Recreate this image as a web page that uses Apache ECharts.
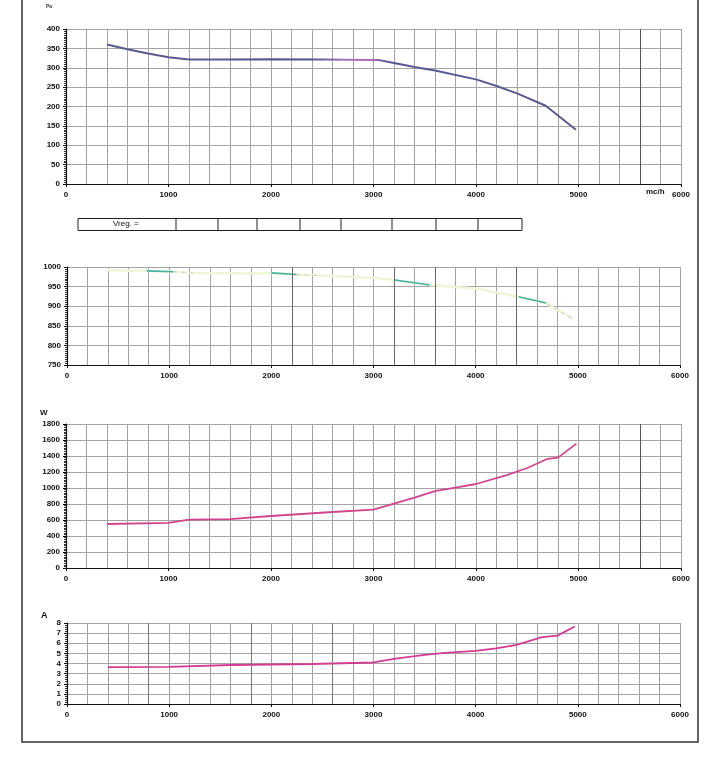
<!DOCTYPE html>
<html>
<head>
<meta charset="utf-8">
<script src="https://cdn.jsdelivr.net/npm/echarts@6/dist/echarts.min.js"></script>
<style>
  html, body { margin: 0; padding: 0; background: #fff; }
  #chart { width: 709px; height: 758px; }
</style>
</head>
<body>
<div id="chart"></div>
<script>
// flow axis (m3/h), shared by all four panels
const FLOW_TICKS = [0, 1000, 2000, 3000, 4000, 5000, 6000];

// panel 1: static pressure (Pa)
const pressureFlow = [400, 600, 800, 1000, 1200, 1500, 2000, 2500, 3000, 3050, 3400, 3600, 4000, 4200, 4400, 4680, 4975];
const pressurePa   = [360, 348, 337, 327, 321, 321, 322, 321, 320, 320, 302, 293, 270, 253, 234, 202, 140];

// panel 2: speed (rpm) - faint full curve + highlighted pieces
const speedFlow = [400, 800, 1040, 1250, 2000, 2250, 2500, 3000, 3200, 3550, 4000, 4400, 4700, 4950];
const speedRpm  = [992, 990, 988, 985, 984, 981, 978, 972, 967, 954, 945, 925, 906, 868];
const speedSegFlow = [[780, 1040], [2000, 2245], [3210, 3550], [4420, 4690]];
const speedSegRpm  = [[990, 988], [985, 981], [967, 954], [924, 908]];
const speedTailFlow = [[1040, 1230], [2245, 2455], [4700, 4950]];
const speedTailRpm  = [[988, 985], [981, 978], [906, 868]];

// panel 3: power (W)
const powerFlow = [400, 1000, 1200, 1600, 2000, 2600, 3000, 3200, 3400, 3600, 3800, 4000, 4300, 4500, 4700, 4800, 4980];
const powerW    = [550, 565, 605, 612, 650, 700, 730, 805, 880, 960, 1005, 1050, 1160, 1250, 1365, 1380, 1555];

// panel 4: current (A)
const currentFlow = [400, 1000, 1600, 2400, 3000, 3200, 3500, 3700, 4000, 4200, 4400, 4650, 4800, 4970];
const currentA    = [3.65, 3.67, 3.85, 3.95, 4.1, 4.45, 4.85, 5.05, 5.25, 5.5, 5.85, 6.6, 6.75, 7.65];

// darker scanned grid columns
const darkCols1 = [5600];
const darkCols2 = [2200, 3200, 3600, 4400];
const darkCols3 = [5600];
const darkCols4 = [800, 1800, 2600];

// Vreg strip cell borders (px)
const vregCells = [78, 176, 218, 257, 300, 341, 392, 436, 478, 522];

const zip = (xs, ys) => xs.map((x, i) => [x, ys[i]]);

const FONT = 'Liberation Sans, Arial, sans-serif';
const GRID_COLOR = '#a4a4a4';

const grids = [
    { left: 66, top: 29, width: 615, height: 155 },
    { left: 67, top: 267, width: 613, height: 98 },
    { left: 66, top: 424, width: 615, height: 144 },
    { left: 67, top: 623, width: 613, height: 81 }
];

function flowAxis(idx) {
    return {
        type: 'value', gridIndex: idx, min: 0, max: 6000, interval: 1000,
        axisLine: { show: true, onZero: false, lineStyle: { color: '#111', width: 1.2 } },
        axisTick: { show: true, length: 3, lineStyle: { color: '#111' } },
        axisLabel: {
            color: '#111', fontSize: 8, fontWeight: 'bold', fontFamily: FONT, margin: 7,
            formatter: v => FLOW_TICKS.indexOf(v) >= 0 ? String(v) : ''
        },
        splitLine: { show: true, lineStyle: { color: GRID_COLOR, width: 1 } },
        minorTick: { show: false, splitNumber: 5 },
        minorSplitLine: { show: true, lineStyle: { color: GRID_COLOR, width: 1 } }
    };
}

function valueAxis(idx, min, max, interval, minorSplit) {
    return {
        type: 'value', gridIndex: idx, min: min, max: max, interval: interval,
        axisLine: { show: true, lineStyle: { color: '#111', width: 1.2 } },
        axisTick: { show: true, length: 3, lineStyle: { color: '#111' } },
        minorTick: { show: true, splitNumber: minorSplit, length: 2, lineStyle: { color: '#333' } },
        axisLabel: {
            color: '#111', fontSize: 8, fontWeight: 'bold', fontFamily: FONT, margin: 6,
            formatter: v => String(v)
        },
        splitLine: { show: true, lineStyle: { color: GRID_COLOR, width: 1 } }
    };
}

function darkLines(cols, color) {
    return {
        silent: true, symbol: 'none', animation: false,
        label: { show: false },
        lineStyle: { color: color, type: 'solid', width: 1 },
        data: cols.map(c => ({ xAxis: c }))
    };
}

function lineSeries(idx, data, color, width, extra) {
    return Object.assign({
        type: 'line', xAxisIndex: idx, yAxisIndex: idx, data: data,
        showSymbol: false, symbol: 'none', smooth: false, animation: false,
        lineStyle: { color: color, width: width }
    }, extra || {});
}

const series = [];

// panel 1
series.push(lineSeries(0, zip(pressureFlow, pressurePa), null, 2, {
    lineStyle: {
        width: 2,
        color: new echarts.graphic.LinearGradient(0, 0, 1, 0, [
            { offset: 0, color: '#5c5a8c' },
            { offset: 0.44, color: '#5a5896' },
            { offset: 0.5, color: '#a070b4' },
            { offset: 0.56, color: '#b86cb8' },
            { offset: 0.6, color: '#5a5896' },
            { offset: 1, color: '#5c5a8c' }
        ])
    },
    markLine: darkLines(darkCols1, '#555')
}));

// panel 2
series.push(lineSeries(1, zip(speedFlow, speedRpm), '#f1f4d6', 2.5, {
    markLine: darkLines(darkCols2, '#6a6a6a')
}));
speedTailFlow.forEach((xs, i) => {
    series.push(lineSeries(1, zip(xs, speedTailRpm[i]), '#c8d0cc', 1, {
        lineStyle: { color: '#c8d0cc', width: 1, type: [4, 4] }
    }));
});
speedSegFlow.forEach((xs, i) => {
    series.push(lineSeries(1, zip(xs, speedSegRpm[i]), '#45b3a3', 1.6));
});

// panel 3
series.push(lineSeries(2, zip(powerFlow, powerW), '#d0458e', 1.8, {
    markLine: darkLines(darkCols3, '#555')
}));

// panel 4
series.push(lineSeries(3, zip(currentFlow, currentA), '#d23c92', 1.8, {
    markLine: darkLines(darkCols4, '#7a7a7a')
}));

// decorative frame, axis unit labels and Vreg strip
const graphics = [
    { type: 'rect', shape: { x: 22, y: -2, width: 676, height: 744 },
      style: { fill: 'none', stroke: '#333', lineWidth: 1.5 }, silent: true },
    { type: 'text', left: 46, top: 4, style: { text: 'Pa', fill: '#333', font: 'bold 5px ' + FONT } },
    { type: 'text', left: 646, top: 188, style: { text: 'mc/h', fill: '#111', font: 'bold 8px ' + FONT } },
    { type: 'text', left: 40, top: 409, style: { text: 'W', fill: '#111', font: 'bold 8px ' + FONT } },
    { type: 'text', left: 41, top: 611, style: { text: 'A', fill: '#111', font: 'bold 9px ' + FONT } },
    { type: 'rect', shape: { x: vregCells[0], y: 218.5, width: vregCells[vregCells.length - 1] - vregCells[0], height: 12 },
      style: { fill: 'none', stroke: '#222', lineWidth: 1 }, silent: true },
    { type: 'text', left: 113, top: 220, style: { text: 'Vreg. =', fill: '#111', font: '8px ' + FONT } }
];
vregCells.slice(1, -1).forEach(x => {
    graphics.push({ type: 'line', shape: { x1: x, y1: 218.5, x2: x, y2: 230.5 },
        style: { stroke: '#222', lineWidth: 1 }, silent: true });
});

const chart = echarts.init(document.getElementById('chart'), null, { renderer: 'canvas' });
chart.setOption({
    backgroundColor: '#fff',
    animation: false,
    grid: grids,
    xAxis: [0, 1, 2, 3].map(flowAxis),
    yAxis: [
        valueAxis(0, 0, 400, 50, 10),
        valueAxis(1, 750, 1000, 50, 10),
        valueAxis(2, 0, 1800, 200, 10),
        valueAxis(3, 0, 8, 1, 5)
    ],
    series: series,
    graphic: graphics
});
</script>
</body>
</html>
